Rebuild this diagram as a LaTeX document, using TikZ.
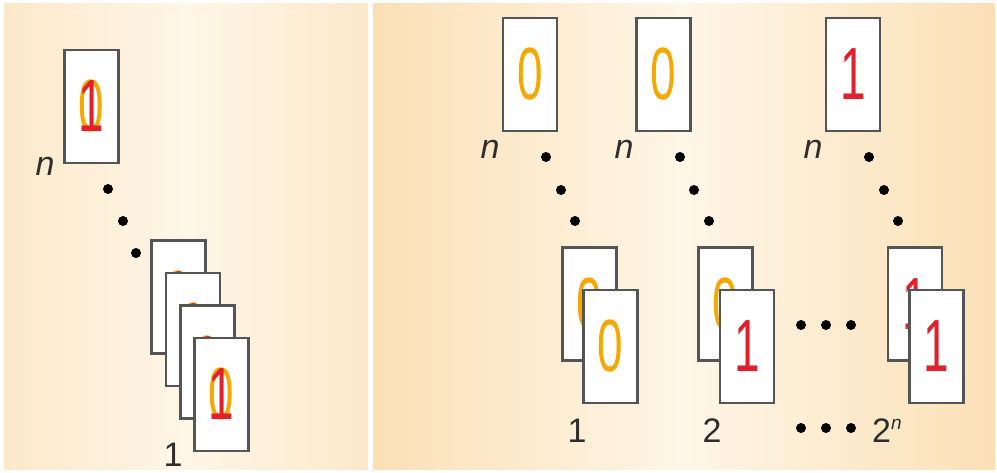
\documentclass[tikz,border=0pt]{standalone}
\usepackage{fontspec}
\setmainfont{Liberation Sans}
\newfontfamily\digitfont[FakeStretch=0.62]{Liberation Sans}

\definecolor{edgepeach}{RGB}{251,224,182}
\definecolor{softpeach}{RGB}{252,233,202}
\definecolor{midcream}{RGB}{254,246,231}
\definecolor{cardedge}{RGB}{85,85,85}
\definecolor{zeroorange}{RGB}{246,168,0}
\definecolor{onered}{RGB}{226,32,44}
\definecolor{labelgray}{RGB}{45,45,45}

\tikzset{
  card/.style={draw=cardedge, fill=white, line width=2.4pt,
    minimum width=54pt, minimum height=113pt, inner sep=0pt},
  digit/.style={font=\digitfont\fontsize{74}{74}\selectfont, inner sep=0pt},
  zero/.style={digit, text=zeroorange},
  one/.style={digit, text=onered},
  lbl/.style={font=\fontsize{34}{34}\selectfont, text=labelgray, inner sep=0pt},
  bullet/.style={circle, fill=black, minimum size=10pt, inner sep=0pt},
}

\begin{document}
\begin{tikzpicture}[x=1pt, y=-1pt]
  % page and the two panels
  \useasboundingbox (0,0) rectangle (997,472);
  \fill[white] (0,0) rectangle (997,472);
  \shade[left color=softpeach, right color=softpeach, middle color=midcream]
    (4,3) rectangle (368,469);
  \shade[left color=edgepeach, right color=edgepeach, middle color=midcream]
    (373,3) rectangle (995,469);

  % ---------- left panel: one card holding both values ----------
  \node[card] (Ln) at (91.5,106.5) {};
  \node[zero] (Lnz) at (Ln.center) {0};
  \node[one]  (Lno) at (Ln.center) {1};
  \node[lbl] (Lnlab) at (45,166) {\itshape n};

  \node[bullet] (Ld1) at (108,189) {};
  \node[bullet] (Ld2) at (123,221) {};
  \node[bullet] (Ld3) at (136,253) {};

  \foreach \i/\cx/\cy in {1/178.5/297, 2/193/329.5, 3/207.5/362, 4/221.5/394.5}{
    \node[card] (Ls\i) at (\cx,\cy) {};
    \node[zero] (Ls\i z) at (Ls\i.center) {0};
    \node[one]  (Ls\i o) at (Ls\i.center) {1};
  }
  \node[lbl] (Llab1) at (173,455) {1};

  % ---------- right panel: three of the 2^n branches ----------
  % branch 1: all zeros
  \node[card] (An) at (530,74.5) {};
  \node[zero] (Anz) at (An.center) {0};
  \node[lbl] (Anlab) at (490,149) {\itshape n};
  \node[bullet] (Ad1) at (546,157) {};
  \node[bullet] (Ad2) at (561,190) {};
  \node[bullet] (Ad3) at (575,221) {};
  \node[card] (Ab) at (589.5,304) {};
  \node[zero] (Abz) at (Ab.center) {0};
  \node[card] (Af) at (610.5,346.5) {};
  \node[zero] (Afz) at (Af.center) {0};
  \node[lbl] (Alab) at (577,431) {1};

  % branch 2
  \node[card] (Bn) at (663.5,74.5) {};
  \node[zero] (Bnz) at (Bn.center) {0};
  \node[lbl] (Bnlab) at (624,149) {\itshape n};
  \node[bullet] (Bd1) at (680,157) {};
  \node[bullet] (Bd2) at (694,190) {};
  \node[bullet] (Bd3) at (709,221) {};
  \node[card] (Bb) at (725.5,304) {};
  \node[zero] (Bbz) at (Bb.center) {0};
  \node[card] (Bf) at (747,346.5) {};
  \node[one] (Bfo) at (Bf.center) {1};
  \node[lbl] (Blab) at (712,431) {2};

  % branch 2^n: all ones
  \node[card] (Cn) at (853,74.5) {};
  \node[one] (Cno) at (Cn.center) {1};
  \node[lbl] (Cnlab) at (813,149) {\itshape n};
  \node[bullet] (Cd1) at (869,157) {};
  \node[bullet] (Cd2) at (884,190) {};
  \node[bullet] (Cd3) at (898,221) {};
  \node[card] (Cb) at (915,304) {};
  \node[one] (Cbo) at (Cb.center) {1};
  \node[card] (Cf) at (936.5,346.5) {};
  \node[one] (Cfo) at (Cf.center) {1};
  \node[lbl, anchor=west] (Clab) at (872,431)
    {2\raisebox{13pt}{\fontsize{19}{19}\selectfont\itshape n}};

  % ellipses between the branches
  \node[bullet] (Hm1) at (801,325) {};
  \node[bullet] (Hm2) at (826,325) {};
  \node[bullet] (Hm3) at (851,325) {};
  \node[bullet] (Hb1) at (801,428) {};
  \node[bullet] (Hb2) at (826,428) {};
  \node[bullet] (Hb3) at (851,428) {};
\end{tikzpicture}
\end{document}
